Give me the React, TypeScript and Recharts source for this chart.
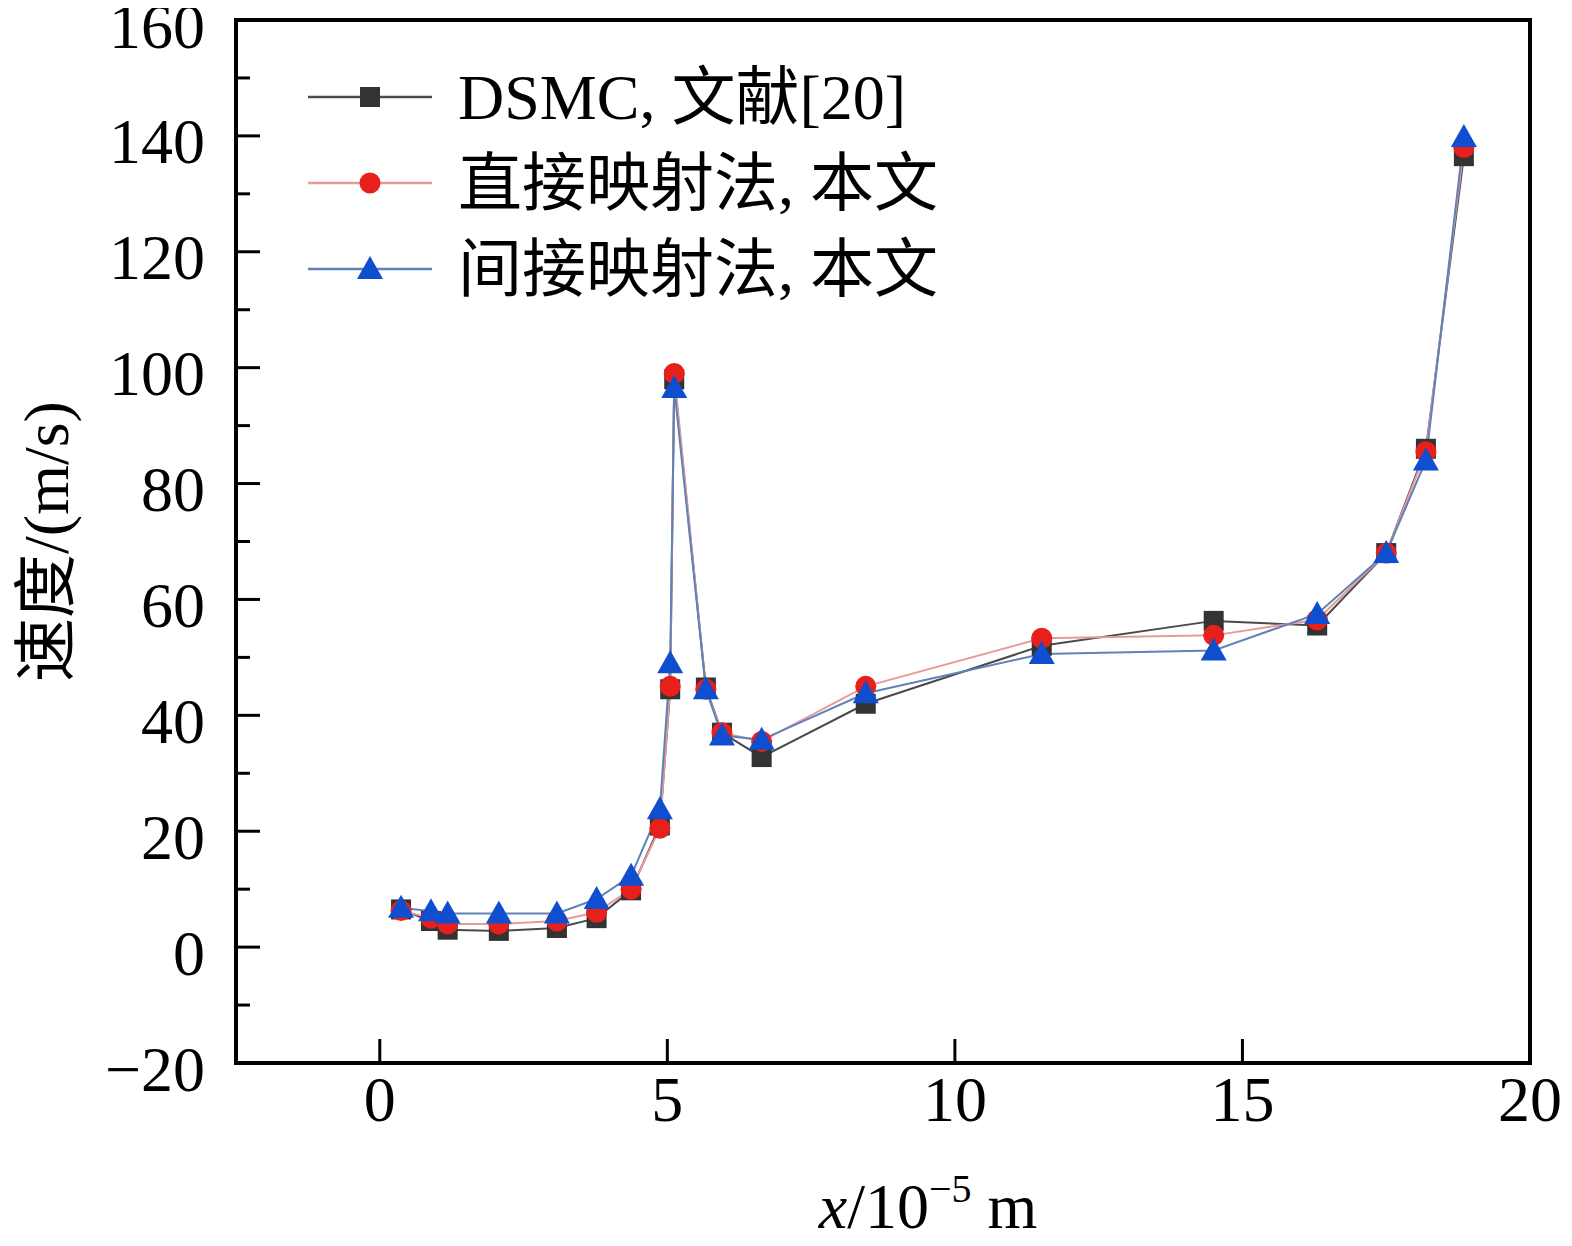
import { Label, Line, LineChart, ReferenceArea, XAxis, YAxis } from "recharts";

// x positions, unit 10^-5 m
const xValues = [
  0.37, 0.89, 1.18, 2.07, 3.08, 3.77, 4.37, 4.87, 5.05, 5.12, 5.67, 5.95, 6.64,
  8.45, 11.51, 14.5, 16.3, 17.5, 18.19, 18.85,
];
// 速度 m/s
const dsmcValues = [
  6.5, 4.5, 3, 2.8, 3.3, 5, 9.8, 21, 44.5, 98, 44.8, 37, 32.8, 42, 52, 56.3,
  55.5, 68, 86, 136.5,
];
const directValues = [
  6.3, 5, 4, 4, 4.5, 6, 10, 20.5, 45, 99, 44.5, 37, 35.5, 45, 53.3, 53.8, 56.5,
  68, 85.5, 138,
];
const indirectValues = [
  6.8, 6.2, 5.8, 5.8, 5.8, 8.3, 12.3, 23.8, 49, 96.5, 44.5, 36.5, 35.8, 43.8,
  50.6, 51.2, 57.5, 68, 84, 139.8,
];

const xTicks = [0, 5, 10, 15, 20];
// major every 20, minor every 10
const yTicks = [
  -20, -10, 0, 10, 20, 30, 40, 50, 60, 70, 80, 90, 100, 110, 120, 130, 140, 150,
  160,
];

const data = xValues.map((x, i) => ({
  x,
  dsmc: dsmcValues[i],
  direct: directValues[i],
  indirect: indirectValues[i],
}));

const series = [
  { key: "dsmc", name: "DSMC, 文献[20]", line: "#4a4a4a", fill: "#333333", shape: "square" },
  { key: "direct", name: "直接映射法, 本文", line: "#e89a9a", fill: "#e8201c", shape: "circle" },
  { key: "indirect", name: "间接映射法, 本文", line: "#5f82b8", fill: "#0f4fcf", shape: "triangle" },
];

const FONT = '"Liberation Serif", "Times New Roman", "Noto Sans CJK SC", serif';

const Marker = ({ shape, cx, cy, fill }: any) => {
  if (cx == null || cy == null) return null;
  if (shape === "square")
    return <rect x={cx - 10} y={cy - 10} width={20} height={20} fill={fill} />;
  if (shape === "circle") return <circle cx={cx} cy={cy} r={10.5} fill={fill} />;
  return (
    <polygon
      points={`${cx},${cy - 13} ${cx - 13},${cy + 10} ${cx + 13},${cy + 10}`}
      fill={fill}
    />
  );
};

const LegendBox = () => (
  <svg width={720} height={270} style={{ display: "block" }}>
    {series.map((s, i) => {
      const y = 44 + i * 86;
      return (
        <g key={s.key}>
          <line x1={13} x2={137} y1={y} y2={y} stroke={s.line} strokeWidth={2.5} />
          <Marker shape={s.shape} cx={75} cy={y} fill={s.fill} />
          <text x={163} y={y + 22} fontSize={64} fontFamily={FONT} fill="#000">
            {s.name}
          </text>
        </g>
      );
    })}
  </svg>
);

const Y_MARGIN = 31;
const X_MARGIN = 12;

// tick line drawn inward from the axis, label outside
const YTick = ({ x, y, payload }: any) => {
  const v = payload.value;
  const axisX = x + Y_MARGIN;
  const major = v % 20 === 0;
  return (
    <g>
      <line
        x1={axisX}
        x2={axisX + (major ? 24 : 14)}
        y1={y}
        y2={y}
        stroke="#000"
        strokeWidth={3}
      />
      {major && (
        <text
          x={x}
          y={y + 6}
          textAnchor="end"
          dominantBaseline="central"
          fontSize={64}
          fontFamily={FONT}
          fill="#000"
        >
          {v < 0 ? `−${-v}` : `${v}`}
        </text>
      )}
    </g>
  );
};

const XTick = ({ x, y, payload }: any) => {
  const axisY = y - X_MARGIN;
  return (
    <g>
      <line x1={x} x2={x} y1={axisY} y2={axisY - 24} stroke="#000" strokeWidth={3} />
      <text
        x={x}
        y={axisY + 58}
        textAnchor="middle"
        fontSize={64}
        fontFamily={FONT}
        fill="#000"
      >
        {payload.value}
      </text>
    </g>
  );
};

const App = () => {
  return (
    <div style={{ width: 1564, height: 1246, position: "relative", marginTop: -8 }}>
      <LineChart
        width={1564}
        height={1246}
        data={data}
        margin={{ top: 20, right: 42, left: 28, bottom: 43 }}
      >
        <ReferenceArea
          x1={-2.5}
          x2={20}
          y1={-20}
          y2={160}
          fill="none"
          stroke="#000"
          strokeWidth={4}
          ifOverflow="visible"
        />
        <XAxis
          dataKey="x"
          type="number"
          domain={[-2.5, 20]}
          ticks={xTicks}
          allowDataOverflow
          height={140}
          axisLine={false}
          tickLine={false}
          tickSize={0}
          tickMargin={X_MARGIN}
          tick={<XTick />}
        >
          <Label
            content={({ viewBox }: any) => {
              const cx = viewBox.x + viewBox.width / 2 + 45;
              return (
                <text
                  x={cx}
                  y={1228}
                  textAnchor="middle"
                  fontSize={64}
                  fontFamily={FONT}
                  fill="#000"
                >
                  <tspan fontStyle="italic">x</tspan>
                  <tspan>/10</tspan>
                  <tspan fontSize={40} dy={-26}>−5</tspan>
                  <tspan dy={26}> m</tspan>
                </text>
              );
            }}
          />
        </XAxis>
        <YAxis
          type="number"
          domain={[-20, 160]}
          ticks={yTicks}
          interval={0}
          width={200}
          allowDataOverflow
          axisLine={false}
          tickLine={false}
          tickSize={0}
          tickMargin={Y_MARGIN}
          tick={<YTick />}
        >
          <Label
            content={({ viewBox }: any) => {
              const cy = viewBox.y + viewBox.height / 2;
              const cx = viewBox.x + 10;
              return (
                <text
                  x={cx}
                  y={cy}
                  transform={`rotate(-90, ${cx}, ${cy})`}
                  textAnchor="middle"
                  dominantBaseline="central"
                  fontSize={64}
                  fontFamily={FONT}
                  fill="#000"
                >
                  速度/(m/s)
                </text>
              );
            }}
          />
        </YAxis>
        {series.map((s) => (
          <Line
            key={s.key}
            dataKey={s.key}
            name={s.name}
            type="linear"
            stroke={s.line}
            strokeWidth={2}
            isAnimationActive={false}
            dot={(p: any) => (
              <Marker key={`${s.key}-${p.index}`} shape={s.shape} cx={p.cx} cy={p.cy} fill={s.fill} />
            )}
            activeDot={false}
          />
        ))}
      </LineChart>
      <div style={{ position: "absolute", left: 287, top: 53 }}>
        <LegendBox />
      </div>
    </div>
  );
};

export default App;
